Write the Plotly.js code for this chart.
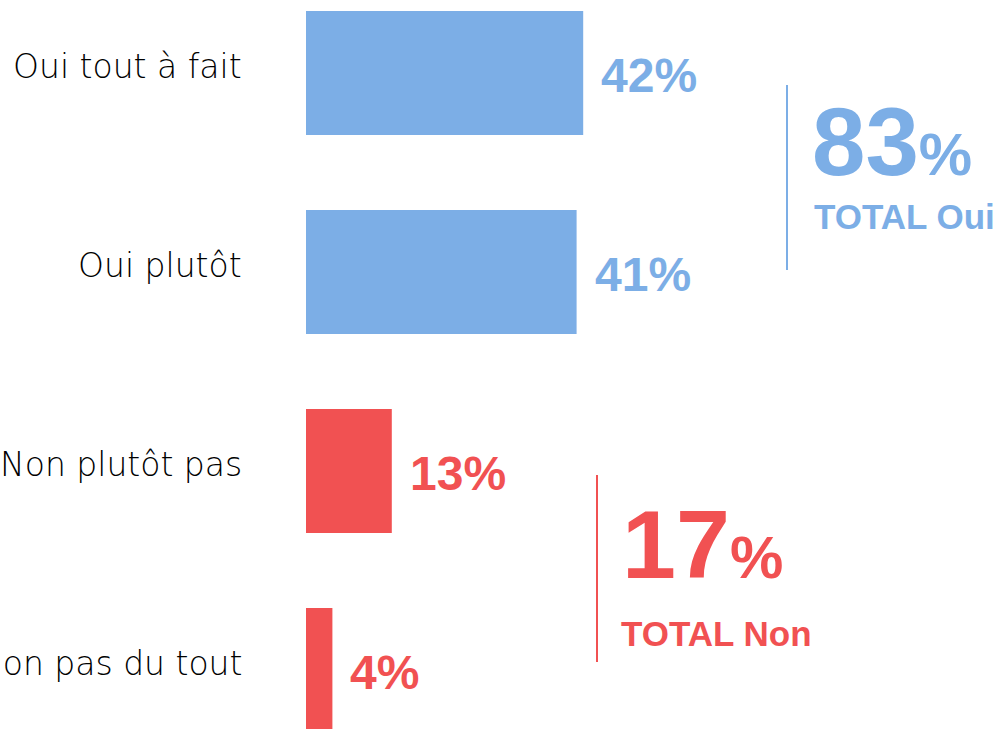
<!DOCTYPE html>
<html>
<head>
<meta charset="utf-8">
<script src="https://cdn.plot.ly/plotly-3.0.1.min.js"></script>
<style>
  html, body { margin: 0; padding: 0; background: #fff; }
  #chart { width: 999px; height: 729px; }
</style>
</head>
<body>
<div id="chart"></div>
<script>
const categories = ["Oui tout à fait", "Oui plutôt", "Non plutôt pas", "Non pas du tout"];
const values = [42, 41, 13, 4];
const groups = ["oui", "oui", "non", "non"];

const BLUE = "#7caee6";
const RED = "#f15152";
const W = 999, H = 729, L = 306;

// pixel -> paper helpers
const px = x => (x - L) / (W - L);
const py = y => 1 - y / H;

const colours = groups.map(g => g === "oui" ? BLUE : RED);
const totalOui = values.filter((v, i) => groups[i] === "oui").reduce((a, b) => a + b, 0);
const totalNon = values.filter((v, i) => groups[i] === "non").reduce((a, b) => a + b, 0);

const trace = {
    type: "bar",
    orientation: "h",
    x: values,
    y: categories,
    width: 0.623,
    marker: { color: colours, line: { width: 0 } },
    hoverinfo: "none"
};

const annotations = [];

categories.forEach((cat, i) => {
    // category label on the left (the reference crops the longest one)
    annotations.push({
        xref: "paper", yref: "y",
        x: 0, y: cat,
        xanchor: "right", yanchor: "middle",
        xshift: -62, yshift: 7,
        text: cat,
        showarrow: false,
        font: { family: "DejaVu Sans, sans-serif", size: 33, weight: 200, color: "#000" }
    });
    // value label
    annotations.push({
        xref: "x", yref: "y",
        x: values[i], y: cat,
        xanchor: "left", yanchor: "middle",
        xshift: 16, yshift: -2,
        text: "<b>" + values[i] + "%</b>",
        showarrow: false,
        font: { family: "Liberation Sans, Arial, sans-serif", size: 48, color: colours[i] }
    });
});

// totals
annotations.push({
    xref: "paper", yref: "paper",
    x: px(810), y: py(142), xanchor: "left", yanchor: "middle",
    text: "<b>" + totalOui + "<span style='font-size:60px'>%</span></b>",
    showarrow: false,
    font: { family: "Liberation Sans, Arial, sans-serif", size: 96, color: BLUE }
});
annotations.push({
    xref: "paper", yref: "paper",
    x: px(812), y: py(216), xanchor: "left", yanchor: "middle",
    text: "<b>TOTAL Oui</b>",
    showarrow: false,
    font: { family: "Liberation Sans, Arial, sans-serif", size: 35, color: BLUE }
});
annotations.push({
    xref: "paper", yref: "paper",
    x: px(620), y: py(544), xanchor: "left", yanchor: "middle",
    text: "<b>" + totalNon + "<span style='font-size:60px'>%</span></b>",
    showarrow: false,
    font: { family: "Liberation Sans, Arial, sans-serif", size: 97, color: RED }
});
annotations.push({
    xref: "paper", yref: "paper",
    x: px(619), y: py(633), xanchor: "left", yanchor: "middle",
    text: "<b>TOTAL Non</b>",
    showarrow: false,
    font: { family: "Liberation Sans, Arial, sans-serif", size: 35, color: RED }
});

const shapes = [
    {
        type: "line", xref: "paper", yref: "paper",
        x0: px(787), x1: px(787), y0: py(85), y1: py(270),
        line: { color: BLUE, width: 2 }
    },
    {
        type: "line", xref: "paper", yref: "paper",
        x0: px(597), x1: px(597), y0: py(475), y1: py(662),
        line: { color: RED, width: 2 }
    }
];

const layout = {
    width: W,
    height: H,
    margin: { l: L, r: 0, t: 0, b: 0 },
    paper_bgcolor: "#fff",
    plot_bgcolor: "#fff",
    showlegend: false,
    xaxis: {
        range: [0, 105],
        visible: false,
        fixedrange: true
    },
    yaxis: {
        type: "category",
        categoryorder: "array",
        categoryarray: categories,
        range: [3.296, -0.367],
        visible: false,
        fixedrange: true
    },
    annotations: annotations,
    shapes: shapes
};

Plotly.newPlot("chart", [trace], layout, { displayModeBar: false, staticPlot: true });
</script>
</body>
</html>
